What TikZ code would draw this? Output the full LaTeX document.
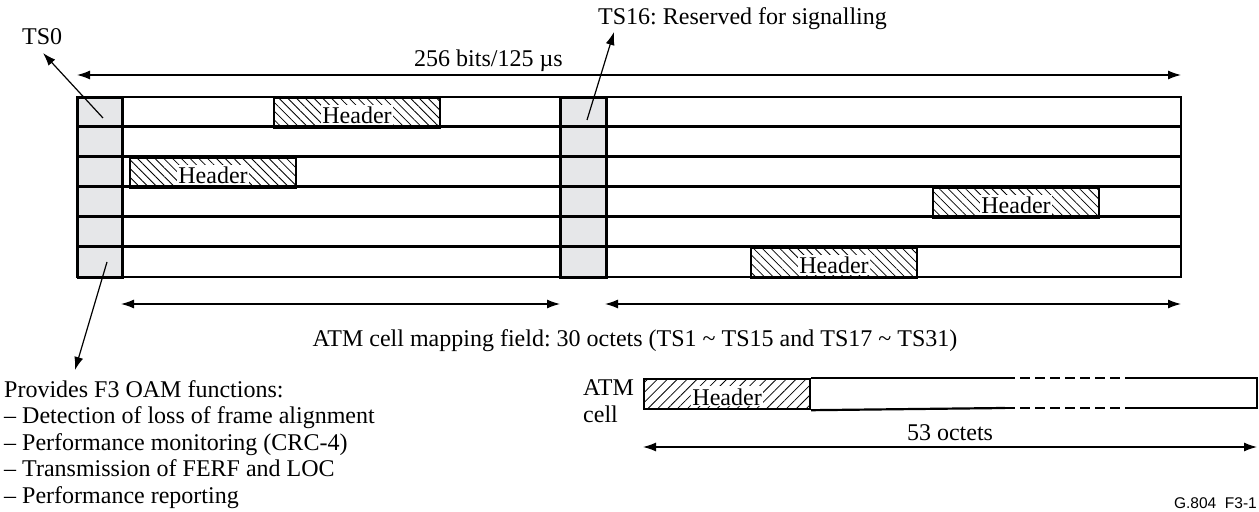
\documentclass[tikz,border=0pt]{standalone}
\usepackage{fontspec}
\setmainfont{Liberation Serif}
\newfontfamily\gsans{Liberation Sans}
\usetikzlibrary{arrows.meta,patterns.meta}
\definecolor{tsgray}{RGB}{230,231,233}
\frenchspacing
\tikzset{
  txt/.style={font=\fontsize{24bp}{26.5bp}\selectfont, inner sep=0pt},
  arr/.style={line width=1.2bp, -{Latex[length=13bp,width=9bp]}},
  darr/.style={line width=1.2bp, {Latex[length=13bp,width=9bp]}-{Latex[length=13bp,width=9bp]}},
  rowline/.style={line width=3bp},
  frameline/.style={line width=2bp},
  tscol/.style={fill=tsgray, draw=black, line width=2bp, minimum width=44bp, minimum height=180bp, anchor=north west, inner sep=0pt},
  hdrbox/.style={draw=black, line width=2bp, fill=white, minimum width=166bp, minimum height=30bp, anchor=north west, inner sep=0pt,
     postaction={pattern={Lines[angle=-45,distance=6.2bp,line width=0.8bp]}}},
  cellhdr/.style={draw=black, line width=2.2bp, fill=white, minimum width=166bp, minimum height=30bp, anchor=north west, inner sep=0pt,
     postaction={pattern={Lines[angle=45,distance=7bp,line width=0.8bp]}}},
  hdrtxt/.style={font=\fontsize{24bp}{26.5bp}\selectfont, fill=white, anchor=base, inner xsep=1bp, inner ysep=0pt, text height=19bp, text depth=1bp},
  cellline/.style={line width=2.2bp},
}
\begin{document}
\begin{tikzpicture}[x=1bp,y=-1bp]
\useasboundingbox (0,0) rectangle (1259,512);

% time-slot columns
\node[tscol] (ts0) at (77,97) {};
\node[tscol, minimum width=45bp] (ts16) at (560,97) {};

% header boxes in the frame
\node[hdrbox] (h1) at (273,97) {};
\node[hdrbox] (h2) at (129,157) {};
\node[hdrbox] (h3) at (932,187) {};
\node[hdrbox] (h4) at (750,247) {};
\foreach \h in {h1,h2,h3,h4}
  \node[hdrtxt] at ([yshift=5bp]\h.south) {Header};

% frame rows
\foreach \y in {127,157,187,217,247}
  \draw[rowline] (77,\y) -- (1181,\y);
\draw[frameline] (77,97) rectangle (1181,277);
\draw[frameline] (ts0.north east) -- (ts0.south east);
\draw[frameline] (ts16.north west) -- (ts16.south west);
\draw[frameline] (ts16.north east) -- (ts16.south east);

% top dimension
\coordinate (topL) at (77,75);
\coordinate (topR) at (1181,75);
\draw[darr] (topL) -- (topR);
\node[txt, anchor=base] (bits) at (488.5,67) {256 bits/125 µs};

% TS0 label
\node[txt, anchor=base west] (ts0lbl) at (22,45) {TS0};
\coordinate (ts0a) at (103,118);
\coordinate (ts0b) at (43,53);
\draw[arr] (ts0a) -- (ts0b);

% TS16 label
\node[txt, anchor=base west] (ts16lbl) at (598,25) {TS16: Reserved for signalling};
\coordinate (ts16a) at (587,120);
\coordinate (ts16b) at (614,32);
\draw[arr] (ts16a) -- (ts16b);

% mapping field arrows
\coordinate (m1L) at (121,304);
\coordinate (m1R) at (560,304);
\coordinate (m2L) at (605,304);
\coordinate (m2R) at (1181,304);
\draw[darr] (m1L) -- (m1R);
\draw[darr] (m2L) -- (m2R);
\node[txt, anchor=base] (maplbl) at (635,347) {ATM cell mapping field: 30 octets (TS1 \textasciitilde{} TS15 and TS17 \textasciitilde{} TS31)};

% OAM functions
\coordinate (oamA) at (107,262);
\coordinate (oamB) at (75,370);
\draw[arr] (oamA) -- (oamB);
\node[txt, anchor=base west] (oam1) at (4,397) {Provides F3 OAM functions:};
\node[txt, anchor=base west] (oam2) at (4,423.5) {– Detection of loss of frame alignment};
\node[txt, anchor=base west] (oam3) at (4,450) {– Performance monitoring (CRC-4)};
\node[txt, anchor=base west] (oam4) at (4,476.5) {– Transmission of FERF and LOC};
\node[txt, anchor=base west] (oam5) at (4,503) {– Performance reporting};

% ATM cell
\node[txt, anchor=base west] (atm1) at (583,395) {ATM};
\node[txt, anchor=base west] (atm2) at (583,422) {cell};
\node[cellhdr] (ch) at (643,378) {};
\node[hdrtxt] at ([yshift=5bp]ch.south) {Header};
\draw[cellline] (ch.north east) -- (1005,378);
\draw[cellline] (ch.south east) -- (1005,408);
\draw[cellline, dash pattern=on 10bp off 5bp] (1005,378) -- (1127,378);
\draw[cellline, dash pattern=on 10bp off 5bp] (1005,408) -- (1127,408);
\draw[cellline] (1127,378) -- (1257,378) -- (1257,408) -- (1127,408);
\coordinate (cL) at (643,447);
\coordinate (cR) at (1257,447);
\draw[darr] (cL) -- (cR);
\node[txt, anchor=base] (octets) at (950,440) {53 octets};

\node[anchor=base east, inner sep=0pt, font=\gsans\fontsize{15.5bp}{17bp}\selectfont] (fig) at (1257,508) {G.804\ \ F3-1};
\end{tikzpicture}
\end{document}
